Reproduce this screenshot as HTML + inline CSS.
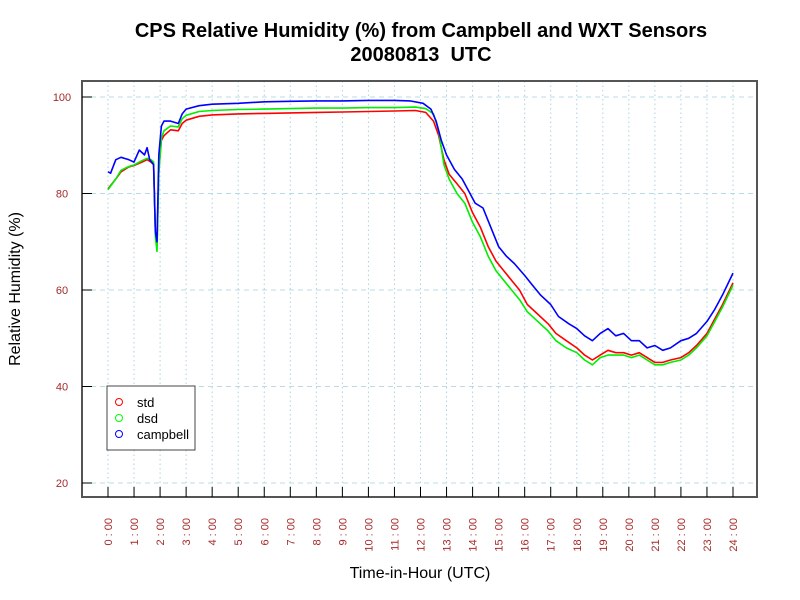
<!DOCTYPE html>
<html><head><meta charset="utf-8"><style>
body{margin:0;background:#fff}
svg{display:block;font-family:"Liberation Sans",sans-serif}
</style></head><body>
<svg width="800" height="600" viewBox="0 0 800 600">
<rect width="800" height="600" fill="#fff"/>
<text x="421" y="37" text-anchor="middle" font-size="20" font-weight="bold">CPS Relative Humidity (%) from Campbell and WXT Sensors</text>
<text x="421" y="61" text-anchor="middle" font-size="20" font-weight="bold" style="white-space:pre">20080813  UTC</text>
<g id="grid"></g>
<g id="series"></g>
<rect x="82" y="81" width="675" height="416" fill="none" stroke="#555" stroke-width="2"/>
<g id="axes"></g>
<text transform="translate(20,289) rotate(-90)" text-anchor="middle" font-size="16">Relative Humidity (%)</text>
<text x="420" y="578" text-anchor="middle" font-size="16">Time-in-Hour (UTC)</text>
<g>
<rect x="107" y="386" width="88" height="64" fill="#fff" stroke="#444" stroke-width="1"/>
<g><circle cx="119" cy="402" r="3.5" fill="none" stroke="#f00"/><text x="137" y="407" font-size="13">std</text></g>
<g><circle cx="119" cy="418" r="3.5" fill="none" stroke="#0f0"/><text x="137" y="423" font-size="13">dsd</text></g>
<g><circle cx="119" cy="434" r="3.5" fill="none" stroke="#00f"/><text x="137" y="439" font-size="13">campbell</text></g>
</g>
</svg>
<script>
const xTicks=[0,1,2,3,4,5,6,7,8,9,10,11,12,13,14,15,16,17,18,19,20,21,22,23,24];
const xTickLabels=["0 : 00","1 : 00","2 : 00","3 : 00","4 : 00","5 : 00","6 : 00","7 : 00","8 : 00","9 : 00","10 : 00","11 : 00","12 : 00","13 : 00","14 : 00","15 : 00","16 : 00","17 : 00","18 : 00","19 : 00","20 : 00","21 : 00","22 : 00","23 : 00","24 : 00"];
const yTicks=[20,40,60,80,100];
const campTimes=[0,0.1,0.3,0.5,0.8,1,1.2,1.4,1.5,1.6,1.75,1.82,1.88,1.95,2.05,2.15,2.4,2.7,2.85,3,3.5,4,5,6,7,8,9,10,11,11.6,12.1,12.4,12.6,12.8,13,13.3,13.6,13.9,14.1,14.4,14.7,15,15.3,15.6,16,16.3,16.6,17,17.3,17.7,18,18.3,18.6,18.9,19.2,19.5,19.8,20.1,20.4,20.7,21,21.3,21.6,22,22.3,22.6,23,23.3,23.6,24];
const campbell=[84.5,84.2,87,87.5,87,86.5,89,88,89.5,87,86,72,70,88,94,95,95,94.5,96.5,97.5,98.2,98.5,98.7,99,99.1,99.2,99.2,99.3,99.3,99.2,98.7,97.5,95,91,88,85,83,80,78,77,73,69,67,65.5,63,61,59,57,54.5,53,52,50.5,49.5,51,52,50.5,51,49.5,49.5,48,48.5,47.5,48,49.5,50,51,53.5,56,59,63.5];
const stdTimes=[0,0.3,0.5,0.8,1,1.3,1.5,1.65,1.75,1.82,1.88,1.95,2.05,2.15,2.4,2.7,2.85,3,3.5,4,5,6,7,8,9,10,11,11.8,12.2,12.5,12.7,12.9,13.1,13.4,13.7,14,14.3,14.6,14.9,15.2,15.5,15.8,16.1,16.5,16.9,17.2,17.6,18,18.3,18.6,18.9,19.2,19.5,19.8,20.1,20.4,20.7,21,21.3,21.6,22,22.3,22.6,23,23.3,23.6,24];
const std=[81,83,84.5,85.5,85.8,86.5,87,86.5,86,72,69,85,91,92,93.2,93,94.5,95.2,96,96.3,96.5,96.6,96.7,96.8,96.9,97,97.1,97.2,96.8,95,92,87,84,82,80,76,73,69,66,64,62,60,57,55,53,51,49.5,48,46.5,45.5,46.5,47.5,47,47,46.5,47,46,45,45,45.5,46,47,48.5,51,54,57,61.5];
const dsd=[80.8,83,84.8,85.6,85.9,86.8,87.3,87,86.5,71,68,84,91.5,93,94,93.8,95.5,96.2,97,97.2,97.4,97.5,97.6,97.7,97.7,97.8,97.8,97.9,97.6,96.5,93,86,83,80,78,74,71,67,64,62,60,58,55.5,53.5,51.5,49.5,48,47,45.5,44.5,46,46.5,46.5,46.5,46,46.5,45.5,44.5,44.5,45,45.5,46.5,48,50.5,53.5,56.5,61];
const NS="http://www.w3.org/2000/svg";
const X0=82,X1=757,Y0=81,Y1=497;
function xs(t){return 108+t*(733-108)/24;}
function ys(v){return 97+(100-v)*(483-97)/80;}
const grid=document.getElementById('grid'),axes=document.getElementById('axes'),series=document.getElementById('series');
function mk(tag,attrs,parent){const e=document.createElementNS(NS,tag);for(const k in attrs)e.setAttribute(k,attrs[k]);parent.appendChild(e);return e;}
xTicks.forEach((t,i)=>{
  const x=xs(t);
  const g=mk('line',{x1:x,x2:x,y1:Y0,y2:Y1,stroke:'#a8d4e0','stroke-dasharray':'1.5,3'},grid);
  
  
  const tk=mk('line',{x1:x,x2:x,y1:Y1-10,y2:Y1,stroke:'#000'},axes);
  
  
  const lb=mk('text',{x:x+4,y:518,'text-anchor':'end','font-size':'11',fill:'#a52a2a',transform:'rotate(-90,'+(x+4)+',518)'},axes);
  lb.textContent=xTickLabels[i];
  
  
});
yTicks.forEach(v=>{
  const y=ys(v);
  const g=mk('line',{x1:X0,x2:X1,y1:y,y2:y,stroke:'#b8dce6','stroke-dasharray':'5,4'},grid);
  
  
  const tk=mk('line',{x1:X0,x2:X0+10,y1:y,y2:y,stroke:'#000'},axes);
  
  
  const lb=mk('text',{x:62,y:y+4,'text-anchor':'middle','font-size':'11',fill:'#a52a2a'},axes);
  lb.textContent=v;
  
  
});
function line(ts,vs,color,name){
  const d=ts.map((t,i)=>(i?'L':'M')+xs(t).toFixed(1)+','+ys(vs[i]).toFixed(1)).join('');
  const p=mk('path',{d:d,fill:'none',stroke:color,'stroke-width':'1.6','stroke-linejoin':'round'},series);
  
  
}
line(stdTimes,std,'#f00','std-line');
line(stdTimes,dsd,'#0e0','dsd-line');
line(campTimes,campbell,'#00f','campbell-line');
</script>
</body></html>
